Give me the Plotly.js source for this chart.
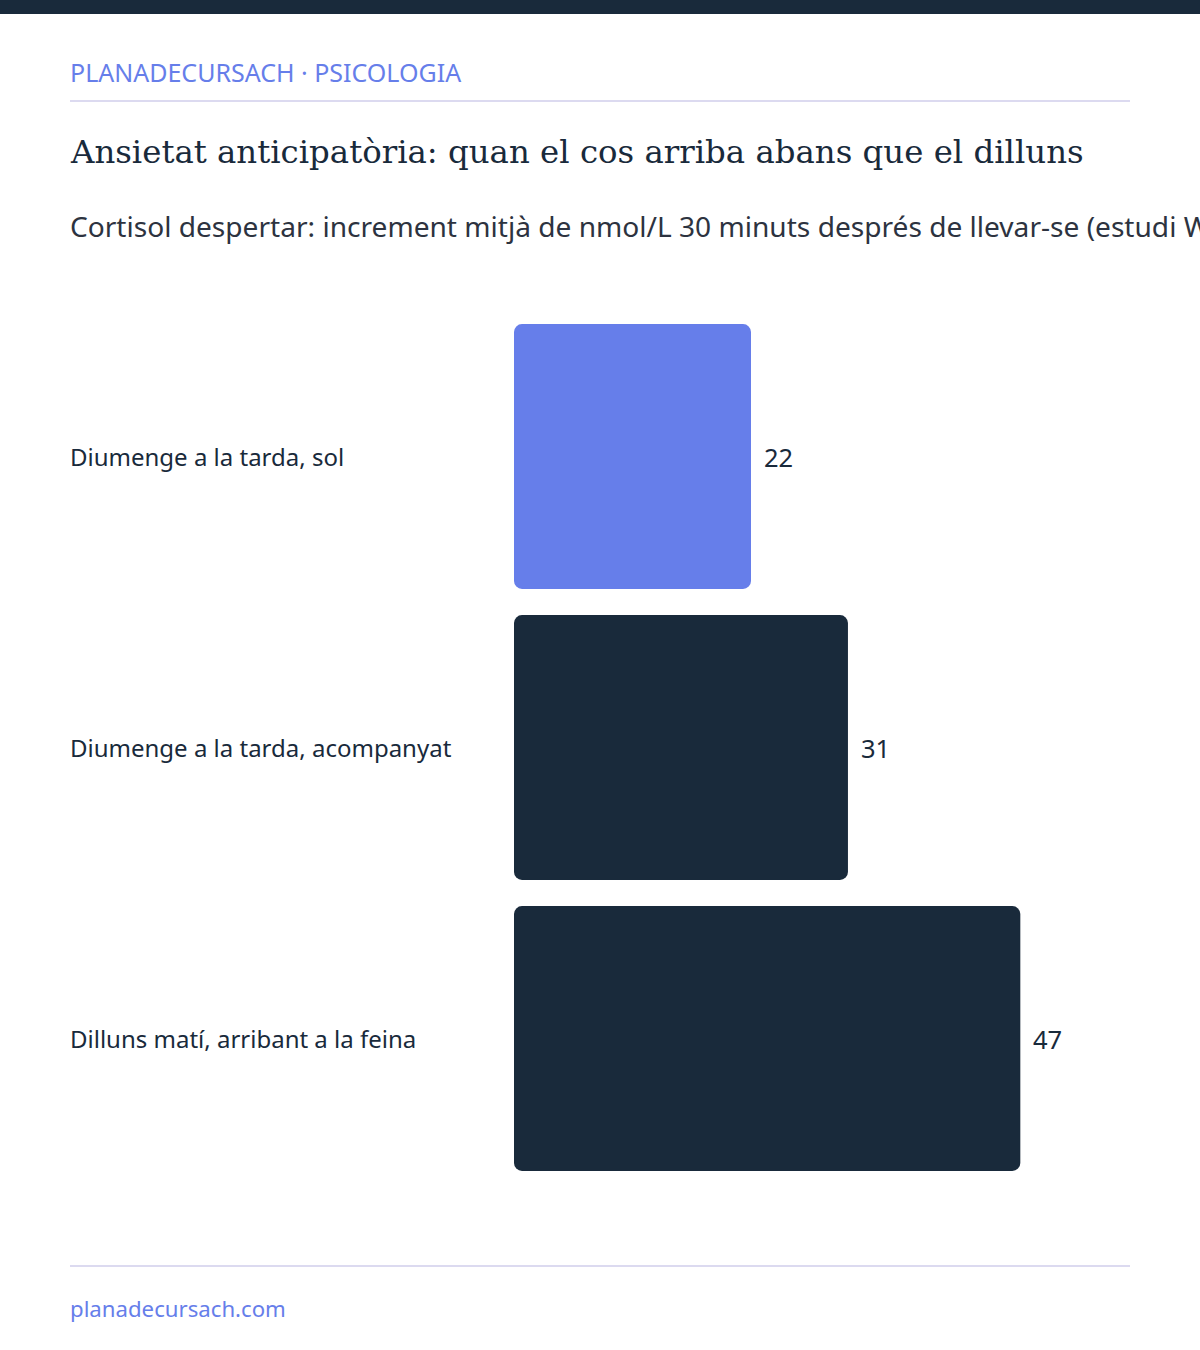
<!DOCTYPE html>
<html>
<head>
<meta charset="utf-8">
<script src="https://cdn.plot.ly/plotly-3.0.1.min.js"></script>
<style>html,body{margin:0;padding:0;background:#fff;}#chart{width:1200px;height:1350px;}</style>
</head>
<body>
<div id="chart"></div>
<script>
const categories = ["Diumenge a la tarda, sol", "Diumenge a la tarda, acompanyat", "Dilluns matí, arribant a la feina"];
const values = [22, 31, 47];
const barColors = ["#667eea", "#192a3b", "#192a3b"];
const kicker = "PLANADECURSACH · PSICOLOGIA";
const titleText = "Ansietat anticipatòria: quan el cos arriba abans que el dilluns";
const subtitleText = "Cortisol despertar: increment mitjà de nmol/L 30 minuts després de llevar-se (estudi Whitehall)";
const footerText = "planadecursach.com";

const W = 1200, H = 1350;
const mL = 514, mR = 70, mT = 311, mB = 166;
const pw = W - mL - mR, ph = H - mT - mB;
const px = x => (x - mL) / pw;
const py = y => (H - mB - y) / ph;

const sans = "'Noto Sans', 'Open Sans', sans-serif";
const serif = "'DejaVu Serif', 'Liberation Serif', serif";
const textX = px(68);

const annotations = [
  {text: kicker, x: textX, y: py(72), xref: 'paper', yref: 'paper', xanchor: 'left', yanchor: 'middle', showarrow: false, font: {family: sans, size: 25, color: '#667eea'}},
  {text: titleText, x: textX, y: py(152), xref: 'paper', yref: 'paper', xanchor: 'left', yanchor: 'middle', showarrow: false, font: {family: serif, size: 32.4, color: '#192a3b'}},
  {text: subtitleText, x: textX, y: py(226), xref: 'paper', yref: 'paper', xanchor: 'left', yanchor: 'middle', showarrow: false, font: {family: sans, size: 28.1, color: '#2d3340'}},
  {text: footerText, x: textX, y: py(1308), xref: 'paper', yref: 'paper', xanchor: 'left', yanchor: 'middle', showarrow: false, font: {family: sans, size: 22.2, color: '#667eea'}}
];
categories.forEach((c, i) => {
  annotations.push({text: c, x: textX, y: c, xref: 'paper', yref: 'y', xanchor: 'left', yanchor: 'middle', showarrow: false, font: {family: sans, size: 24, color: '#192a3b'}});
  annotations.push({text: String(values[i]), x: values[i], y: c, xref: 'x', yref: 'y', xanchor: 'left', yanchor: 'middle', xshift: 11, showarrow: false, font: {family: sans, size: 25.5, color: '#192a3b'}});
});

const shapes = [
  {type: 'rect', xref: 'paper', yref: 'paper', x0: px(0), x1: px(W), y0: py(0), y1: py(14), fillcolor: '#192a3b', line: {width: 0}, layer: 'above'},
  {type: 'line', xref: 'paper', yref: 'paper', x0: px(70), x1: px(1130), y0: py(101), y1: py(101), line: {color: '#dcdaf0', width: 2}},
  {type: 'line', xref: 'paper', yref: 'paper', x0: px(70), x1: px(1130), y0: py(1266), y1: py(1266), line: {color: '#dcdaf0', width: 2}}
];

const data = [
  {
    type: 'bar', orientation: 'h', y: categories, x: values, base: values.map(() => 0),
    marker: {color: barColors, line: {width: 0}, cornerradius: 8},
    hoverinfo: 'skip'
  }
];

const layout = {
  width: W, height: H,
  margin: {l: mL, r: mR, t: mT, b: mB, pad: 0},
  paper_bgcolor: '#ffffff', plot_bgcolor: '#ffffff',
  showlegend: false,
  bargap: 0.09,
  xaxis: {range: [0, pw / (237 / 22)], visible: false, fixedrange: true},
  yaxis: {autorange: 'reversed', showticklabels: false, showgrid: false, zeroline: false, showline: false, ticks: '', fixedrange: true},
  annotations: annotations,
  shapes: shapes
};

Plotly.newPlot('chart', data, layout, {displayModeBar: false});
</script>
</body>
</html>
